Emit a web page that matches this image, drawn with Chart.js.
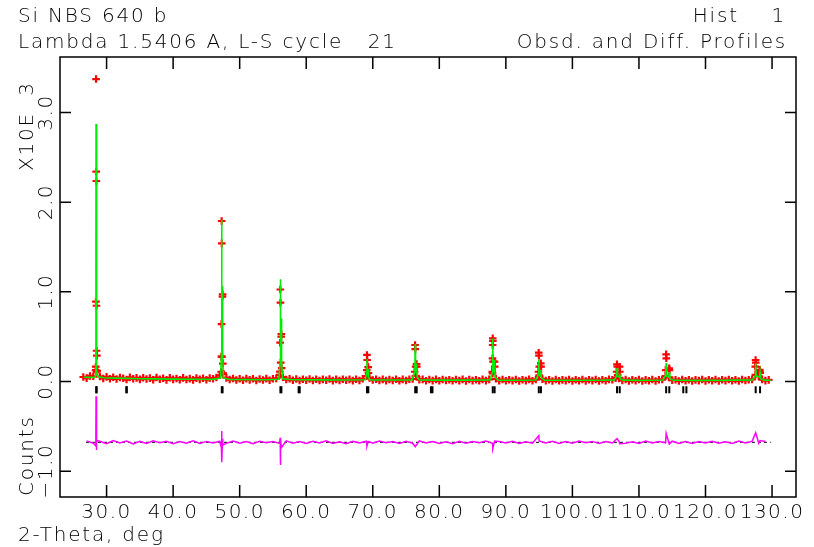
<!DOCTYPE html>
<html>
<head>
<meta charset="utf-8">
<script src="https://cdn.jsdelivr.net/npm/chart.js@4.4.0/dist/chart.umd.min.js"></script>
<style>
  body { margin: 0; background: #fff; }
  #wrap { position: relative; width: 814px; height: 547px; }
  .lbl { position: absolute; font-family: "DejaVu Sans", sans-serif; font-size: 20px; font-weight: 200;
         line-height: 20px; letter-spacing: 1.8px; white-space: pre; color: #000; }
  .rot { transform-origin: 0 0; transform: rotate(-90deg); }
</style>
</head>
<body>
<div id="wrap">
  <canvas id="gsasPlot" width="814" height="547"></canvas>
  <div class="lbl" style="left:18px;top:5px">Si NBS 640 b</div>
  <div class="lbl" style="right:28px;top:5px">Hist    1</div>
  <div class="lbl" style="left:18px;top:31px">Lambda 1.5406 A, L-S cycle   21</div>
  <div class="lbl" style="right:27px;top:31px">Obsd. and Diff. Profiles</div>
  <div class="lbl rot" style="left:16px;top:171px">X10E  3</div>
  <div class="lbl rot" style="left:16px;top:496px">Counts</div>
  <div class="lbl" style="left:18px;top:524px">2-Theta, deg</div>
</div>
<script>
// axis ticks
const xTickValues = [30, 40, 50, 60, 70, 80, 90, 100, 110, 120, 130];
const xTickLabels = ['30.0', '40.0', '50.0', '60.0', '70.0', '80.0', '90.0', '100.0', '110.0', '120.0', '130.0'];
const yTickValues = [-1000, 0, 1000, 2000, 3000];
const yTickLabels = ['\u22121.0', '0.0', '1.0', '2.0', '3.0'];

// observed background, 2-theta grid from 26.5 in 0.5 deg steps
const obsStart = 26.5;
const obsStep = 0.5;
const obsCounts = [
  50, 38, 62, 58, 110, 56, 34, 52, 30, 48,
  28, 44, 36, 22, 46, 30, 40, 24, 42, 28,
  38, 20, 44, 26, 36, 18, 42, 24, 34, 20,
  40, 22, 32, 18, 38, 24, 36, 20, 38, 30,
  44, 70, 85, 40, 22, 34, 16, 30, 14, 32,
  18, 30, 12, 28, 16, 32, 14, 30, 34, 75,
  48, 22, 30, 14, 28, 12, 26, 14, 28, 12,
  26, 12, 24, 14, 28, 10, 24, 12, 26, 14,
  24, 10, 26, 12, 30, 60, 40, 16, 26, 12,
  24, 10, 22, 12, 26, 8, 24, 12, 26, 28,
  62, 20, 24, 8, 22, 10, 24, 8, 22, 12,
  20, 8, 22, 10, 24, 6, 22, 10, 20, 8,
  24, 10, 24, 90, 30, 10, 22, 8, 20, 10,
  22, 6, 20, 10, 24, 8, 22, 70, 26, 10,
  20, 6, 22, 8, 18, 10, 22, 6, 20, 8,
  22, 6, 20, 10, 22, 6, 20, 8, 24, 20,
  38, 34, 12, 22, 6, 20, 8, 22, 6, 18,
  8, 22, 6, 20, 22, 60, 45, 14, 20, 6,
  22, 8, 20, 6, 18, 10, 22, 6, 20, 8,
  22, 6, 20, 10, 22, 8, 20, 6, 22, 12,
  20, 24, 75, 60, 22, 10, 18
];

// observed points on the peaks
const peakObsTheta = [
  28.36, 28.38, 28.40, 28.42, 28.44, 28.46, 28.48, 28.50, 28.54, 28.60,
  47.22, 47.25, 47.27, 47.29, 47.31, 47.35, 47.41, 47.43, 47.47, 47.52,
  56.04, 56.08, 56.11, 56.13, 56.17, 56.24, 56.26, 56.31,
  69.05, 69.10, 69.13, 69.16, 69.31, 69.35,
  76.30, 76.36, 76.39, 76.44, 76.58, 76.62,
  87.95, 88.00, 88.02, 88.03, 88.05, 88.08, 88.29, 88.33,
  94.90, 94.94, 94.97, 95.02, 95.25, 95.29,
  106.65, 106.70, 106.74, 106.80, 107.09, 107.13,
  114.02, 114.08, 114.11, 114.55, 114.59,
  127.48, 127.53, 127.56, 128.16, 128.19, 128.23
];
const peakObsCounts = [
  128, 165, 890, 3373, 2340, 2236, 845, 343, 288, 120,
  109, 277, 641, 1790, 1541, 277, 946, 972, 200, 90,
  110, 433, 1026, 879, 210, 500, 530, 150,
  60, 128, 296, 240, 160, 95,
  109, 407, 362, 165, 195, 165,
  109, 259, 407, 482, 452, 221, 221, 165,
  109, 321, 288, 165, 203, 165,
  109, 191, 165, 72, 165, 109,
  128, 303, 259, 147, 128,
  165, 240, 210, 130, 109, 95
];

// calculated profile
const calcTheta = [
  26.6, 27.5, 28.2, 28.36, 28.40, 28.42, 28.45, 28.48, 28.52, 28.56, 28.66,
  29.5, 31, 33, 35, 37, 40, 43, 46,
  47.15, 47.25, 47.29, 47.33, 47.39, 47.42, 47.46, 47.55,
  48.5, 51, 54, 55.9, 56.06, 56.11, 56.16, 56.24, 56.27, 56.32, 56.45,
  58, 62, 66, 68.9, 69.08, 69.13, 69.18, 69.30, 69.33, 69.38, 69.6,
  72, 75.9, 76.32, 76.38, 76.43, 76.57, 76.60, 76.66, 77,
  80, 84, 87.6, 87.97, 88.03, 88.08, 88.27, 88.31, 88.37, 88.8,
  92, 94.5, 94.89, 94.95, 95.01, 95.21, 95.27, 95.33, 95.8,
  100, 104, 106.3, 106.64, 106.71, 106.78, 107.04, 107.11, 107.18, 107.6,
  110, 113.6, 114.01, 114.09, 114.17, 114.48, 114.56, 114.64, 115.2,
  118, 122, 127.0, 127.45, 127.54, 127.63, 128.11, 128.20, 128.29, 128.8, 129.8
];
const calcCounts = [
  48, 46, 45, 70, 1266, 2872, 1000, 420, 330, 130, 55,
  42, 38, 35, 31, 29, 27, 25, 24,
  40, 300, 1800, 700, 500, 1065, 300, 40,
  23, 21, 20, 26, 200, 1140, 420, 400, 705, 200, 30,
  19, 18, 17, 20, 100, 250, 90, 80, 140, 50, 18,
  16, 18, 100, 418, 120, 110, 200, 50, 17,
  15, 15, 18, 100, 480, 120, 110, 240, 50, 15,
  14, 17, 80, 245, 70, 60, 130, 40, 15,
  14, 14, 18, 60, 150, 60, 50, 85, 30, 15,
  13, 17, 70, 205, 60, 50, 105, 30, 14,
  13, 13, 18, 60, 205, 60, 50, 105, 30, 15, 14
];

// difference curve (obs - calc), 1 deg grid from 27, plotted at an offset
const diffOffset = -678;
const diffStart = 27;
const diffStep = 1;
const diffCounts = [
  16, -10, 12, -16, 20, -8, 14, -18, 10, -12,
  18, -6, 12, -16, 8, -10, 16, -14, 10, -8,
  12, -12, 14, -10, 8, -16, 12, -6, 10, -12,
  16, -10, 8, -14, 12, -8, 18, -12, 6, -16,
  10, -8, 12, -10, 14, -6, 8, -14, 12, -10,
  16, -8, 10, -12, 6, -16, 12, -10, 8, -6,
  14, -12, 10, -8, 12, -14, 6, -10, 16, -8,
  12, -12, 8, -10, 14, -6, 10, -14, 8, -8,
  12, -10, 6, -12, 14, -8, 10, -5, 12, -14,
  8, -12, 10, -8, 12, -10, 6, -12, 14, -8,
  10, -10, 8
];
const diffPeakTheta = [
  28.38, 28.42, 28.46, 28.52,
  47.26, 47.29, 47.32, 47.42, 47.46,
  56.08, 56.12, 56.16, 56.27,
  69.13, 69.32, 76.38, 88.03, 88.31, 94.95,
  106.71, 107.11, 114.09, 114.56, 127.54, 128.20
];
const diffPeakCounts = [
  -40, 513, -86, 20,
  -60, 126, -223, 40, -30,
  51, -253, 30, -60,
  -41, 10, -50, -70, 15, 75,
  40, -15, 100, -20, 107, 20
];

// reflection positions, K-alpha1 and K-alpha2
const reflTheta = [
  28.44, 32.96, 47.31, 56.12, 58.86, 69.13, 76.38, 78.74, 88.03, 94.95, 106.71, 114.09, 116.66, 127.54,
  28.51, 33.04, 47.43, 56.27, 59.02, 69.33, 76.60, 78.97, 88.31, 95.27, 107.11, 114.56, 117.13, 128.20
];
const reflLevel = -92;

const obsPoints = obsCounts.map((c, i) => ({ x: obsStart + i * obsStep, y: c }))
  .concat(peakObsTheta.map((t, i) => ({ x: t, y: peakObsCounts[i] })));
const calcPoints = calcTheta.map((t, i) => ({ x: t, y: calcCounts[i] }));
const diffPoints = diffCounts.map((c, i) => ({ x: diffStart + i * diffStep, y: c + diffOffset }))
  .concat(diffPeakTheta.map((t, i) => ({ x: t, y: diffPeakCounts[i] + diffOffset })))
  .sort((a, b) => a.x - b.x);
const reflPoints = reflTheta.map(t => ({ x: t, y: reflLevel }));
const diffZero = [{ x: 26.9, y: diffOffset }, { x: 129.8, y: diffOffset }];

const framePlugin = {
  id: 'gsasFrame',
  afterDatasetsDraw(chart) {
    const { ctx, chartArea: a, scales: { x, y } } = chart;
    ctx.save();
    ctx.strokeStyle = '#000';
    ctx.lineWidth = 1.5;
    ctx.strokeRect(a.left, a.top, a.right - a.left, a.bottom - a.top);
    ctx.beginPath();
    xTickValues.forEach(v => {
      const px = x.getPixelForValue(v);
      ctx.moveTo(px, a.bottom); ctx.lineTo(px, a.bottom - 12);
      ctx.moveTo(px, a.top); ctx.lineTo(px, a.top + 12);
    });
    yTickValues.forEach(v => {
      const py = y.getPixelForValue(v);
      ctx.moveTo(a.left, py); ctx.lineTo(a.left + 11, py);
      ctx.moveTo(a.right, py); ctx.lineTo(a.right - 11, py);
    });
    ctx.stroke();

    ctx.fillStyle = '#000';
    ctx.font = '200 20px "DejaVu Sans"';
    ctx.letterSpacing = '1.5px';
    ctx.textAlign = 'center';
    ctx.textBaseline = 'alphabetic';
    xTickValues.forEach((v, i) => {
      ctx.fillText(xTickLabels[i], x.getPixelForValue(v), a.bottom + 21);
    });
    yTickValues.forEach((v, i) => {
      ctx.save();
      ctx.translate(a.left - 8, y.getPixelForValue(v));
      ctx.rotate(-Math.PI / 2);
      ctx.fillText(yTickLabels[i], 0, 0);
      ctx.restore();
    });
    ctx.restore();
  }
};

new Chart('gsasPlot', {
  type: 'scatter',
  data: {
    datasets: [
      { label: 'Obsd', data: obsPoints, order: 5, showLine: false,
        pointStyle: 'cross', pointRadius: 3.8, borderColor: '#ff0000', borderWidth: 2.2 },
      { label: 'Calc', data: calcPoints, order: 4, showLine: true, pointRadius: 0,
        borderColor: '#00ee00', borderWidth: 1.6 },
      { label: 'Refl', data: reflPoints, order: 3, showLine: false,
        pointStyle: 'line', rotation: 90, pointRadius: 3.5, borderColor: '#000', borderWidth: 2 },
      { label: 'Zero', data: diffZero, order: 2, showLine: true, pointRadius: 0,
        borderColor: '#000', borderWidth: 1, borderDash: [3, 3] },
      { label: 'Diff', data: diffPoints, order: 1, showLine: true, pointRadius: 0,
        borderColor: '#ff00ff', borderWidth: 1.5 }
    ]
  },
  options: {
    responsive: false,
    animation: false,
    devicePixelRatio: 1,
    layout: { padding: { left: 60, right: 18, top: 57, bottom: 50 } },
    plugins: { legend: { display: false }, tooltip: { enabled: false } },
    scales: {
      x: { type: 'linear', display: false, min: 23, max: 133.6 },
      y: { type: 'linear', display: false, min: -1288, max: 3619 }
    }
  },
  plugins: [framePlugin]
});
</script>
</body>
</html>
